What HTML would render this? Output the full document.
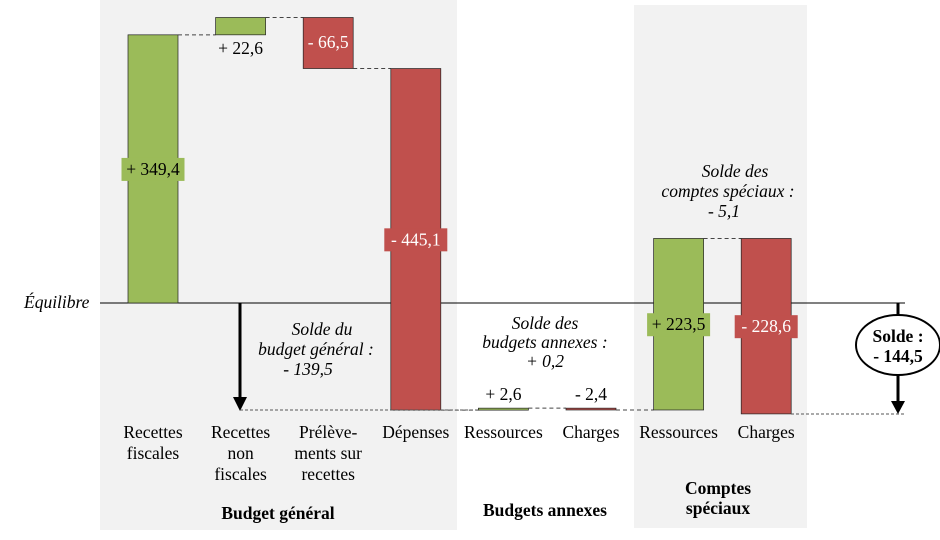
<!DOCTYPE html>
<html><head><meta charset="utf-8"><style>
body{margin:0;background:#fff}
svg text{font-family:"Liberation Serif",serif;font-size:17.5px}
</style></head><body>
<svg width="940" height="535" xmlns="http://www.w3.org/2000/svg">
<rect x="100" y="0" width="357" height="530" fill="#f2f2f2"/>
<rect x="634" y="5" width="173" height="523" fill="#f2f2f2"/>
<line x1="100" y1="303" x2="905" y2="303" stroke="#000" stroke-width="1"/>
<text x="24" y="308" font-style="italic">Équilibre</text>
<g id="bars"></g>
<g id="labels"></g>
<line x1="240" y1="303" x2="240" y2="398" stroke="#000" stroke-width="3"/>
<polygon points="233,397 247,397 240,411" fill="#000"/>
<line x1="898" y1="303" x2="898" y2="402" stroke="#000" stroke-width="3"/>
<polygon points="891,401 905,401 898,414" fill="#000"/>
<line x1="240" y1="410" x2="478" y2="410" stroke="#555" stroke-dasharray="3,2"/>
<line x1="791" y1="414" x2="905" y2="414" stroke="#555" stroke-dasharray="3,2"/>
<ellipse cx="898" cy="345" rx="42" ry="30" fill="#fff" stroke="#000" stroke-width="2"/>
<text x="898" y="342" text-anchor="middle" font-weight="bold">Solde :</text>
<text x="898" y="362" text-anchor="middle" font-weight="bold">- 144,5</text>
<text x="322" y="335" font-style="italic" text-anchor="middle"><tspan x="322">Solde du</tspan><tspan x="316" dy="20">budget général :</tspan><tspan x="308" dy="20">- 139,5</tspan></text>
<text x="545" y="329" font-style="italic" text-anchor="middle"><tspan x="545">Solde des</tspan><tspan x="545" dy="19">budgets annexes :</tspan><tspan x="545" dy="19">+ 0,2</tspan></text>
<text x="730" y="177" font-style="italic" text-anchor="middle"><tspan x="735">Solde des</tspan><tspan x="728" dy="20">comptes  spéciaux :</tspan><tspan x="724" dy="20">- 5,1</tspan></text>
<g id="cats"></g>
<text x="278" y="519" text-anchor="middle" font-weight="bold">Budget général</text>
<text x="545" y="516" text-anchor="middle" font-weight="bold">Budgets annexes</text>
<text x="718" y="494" text-anchor="middle" font-weight="bold"><tspan x="718">Comptes</tspan><tspan x="718" dy="20">spéciaux</tspan></text>
</svg>
<script>
const categories=[["Recettes","fiscales"],["Recettes","non","fiscales"],["Prélève-","ments sur","recettes"],["Dépenses"],["Ressources"],["Charges"],["Ressources"],["Charges"]];
const values=[349.4,22.6,-66.5,-445.1,2.6,-2.4,223.5,-228.6];
const labels=["+ 349,4","+ 22,6","- 66,5","- 445,1","+ 2,6","- 2,4","+ 223,5","- 228,6"];
const NS="http://www.w3.org/2000/svg";
const x0=153,step=87.6,bw=50;
function xC(i){return x0+i*step;}
function yV(v){return 303-v*0.7675;}
const bars=document.getElementById('bars'),lab=document.getElementById('labels'),cats=document.getElementById('cats');
let cum=0;
values.forEach((v,i)=>{
  const a=cum,b=cum+v;cum=b;
  const y1=yV(Math.max(a,b)),y2=yV(Math.min(a,b));
  const pos=v>=0;
  const r=document.createElementNS(NS,'rect');
  r.setAttribute('x',xC(i)-bw/2);r.setAttribute('y',y1);r.setAttribute('width',bw);r.setAttribute('height',Math.max(1,y2-y1));
  r.setAttribute('fill',pos?'#9bbb59':'#c0504d');r.setAttribute('stroke','#222');r.setAttribute('stroke-width','0.7');
  
  
  bars.appendChild(r);
  if(i<values.length-1){
    const l=document.createElementNS(NS,'line');
    l.setAttribute('x1',xC(i)+bw/2);l.setAttribute('x2',xC(i+1)-bw/2);l.setAttribute('y1',yV(b));l.setAttribute('y2',yV(b));
    l.setAttribute('stroke','#444');l.setAttribute('stroke-dasharray','4,3');
    
    
    bars.appendChild(l);
  }
  const big=Math.abs(v)>100;
  const t=document.createElementNS(NS,'text');
  t.setAttribute('text-anchor','middle');t.setAttribute('x',xC(i));
  let ty;
  if(big){
    ty=(y1+y2)/2+6;
    const bg=document.createElementNS(NS,'rect');
    const w=labels[i].length*9;
    bg.setAttribute('x',xC(i)-w/2);bg.setAttribute('y',ty-17);bg.setAttribute('width',w);bg.setAttribute('height',23);
    bg.setAttribute('fill',pos?'#9bbb59':'#c0504d');
    
    
    lab.appendChild(bg);
    t.style.fill=pos?'#000':'#fff';
  } else if(i===2){ty=(y1+y2)/2+5;t.style.fill='#fff';}
  else ty=(i===1?y2+19:y1-8);
  t.setAttribute('y',ty);t.textContent=labels[i];
  
  
  lab.appendChild(t);
  const c=document.createElementNS(NS,'text');
  c.setAttribute('text-anchor','middle');
  
  
  categories[i].forEach((s,k)=>{const sp=document.createElementNS(NS,'tspan');sp.setAttribute('x',xC(i));sp.setAttribute('y',438+k*21);sp.textContent=s;c.appendChild(sp);});
  cats.appendChild(c);
});
</script>
</body></html>
